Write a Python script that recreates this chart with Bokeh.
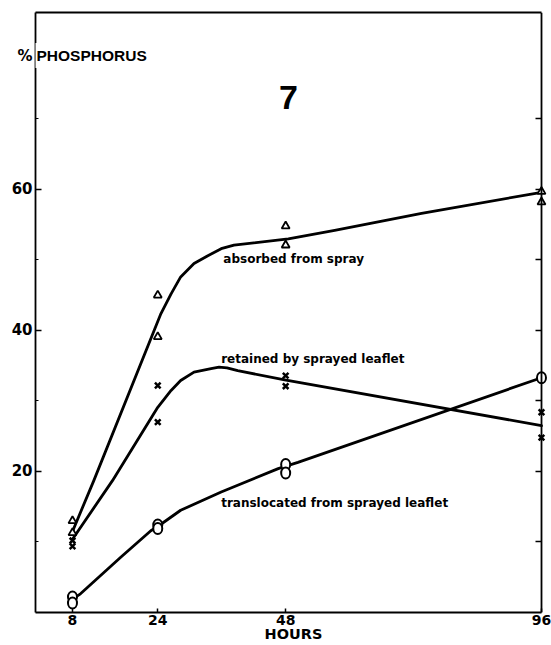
from bokeh.plotting import figure
from bokeh.models import Range1d, LinearAxis, FixedTicker, Label
from bokeh.embed import file_html
from bokeh.resources import INLINE

# ---- data ----
hours_ticks = [8, 24, 48, 96]
y_major = [20, 40, 60]
y_minor = [10, 30, 50, 70]
right_ticks = [10, 20, 30, 40, 50, 60, 70]
y_title_pos = 79.0          # height of the "% PHOSPHORUS" caption

# observed points
abs_x = [8, 8, 24, 24, 48, 48, 96, 96]
abs_y = [13.0, 11.3, 45.0, 39.1, 54.8, 52.1, 59.7, 58.2]
ret_x = [8, 8, 24, 24, 48, 48, 96, 96]
ret_y = [10.2, 9.4, 32.2, 27.0, 33.6, 32.1, 28.4, 24.8]
tra_x = [8, 8, 24, 24, 48, 48, 96]
tra_y = [2.2, 1.35, 12.4, 11.9, 21.0, 19.8, 33.3]

# hand-drawn fitted curves
abs_curve_x = [8, 12.0, 24.6, 26.5, 28.3, 30.8, 33.4, 35.9, 38.3, 48.5, 57.2, 73.5, 96]
abs_curve_y = [11.5, 18.7, 42.4, 45.2, 47.6, 49.5, 50.6, 51.6, 52.1, 53.0, 54.2, 56.6, 59.6]
ret_curve_x = [8, 15.5, 24.0, 26.5, 28.3, 30.8, 34.0, 35.5, 37.0, 39.0, 47.8, 96]
ret_curve_y = [10.4, 18.7, 29.1, 31.5, 32.9, 34.1, 34.6, 34.8, 34.7, 34.3, 33.0, 26.5]
tra_curve_x = [8, 9.5, 17.0, 22.7, 24, 28.3, 35.9, 46.6, 50.3, 96]
tra_curve_y = [1.9, 2.65, 7.8, 11.6, 12.2, 14.5, 17.1, 20.4, 21.3, 33.3]

p = figure(width=551, height=645,
           x_range=Range1d(1.06, 97.88), y_range=Range1d(0, 85.1),
           output_backend="svg", toolbar_location=None,
           min_border_left=35, min_border_right=0, min_border_top=12, min_border_bottom=33)
p.outline_line_color = None
p.xgrid.visible = False
p.ygrid.visible = False
p.background_fill_color = "white"
p.border_fill_color = "white"

SPINE = 1.8

# bottom axis
xa = p.xaxis[0]
xa.ticker = FixedTicker(ticks=hours_ticks)
xa.bounds = (1.06, 96)
xa.axis_line_width = SPINE
xa.major_tick_in = 4
xa.major_tick_out = 0
xa.major_tick_line_width = 1.5
xa.minor_tick_line_color = None
xa.major_label_text_font = "DejaVu Sans"
xa.major_label_text_font_style = "bold"
xa.major_label_text_font_size = "14px"
xa.major_label_text_color = "black"
xa.major_label_standoff = 2
xa.axis_label = "HOURS"
xa.axis_label_text_font = "DejaVu Sans"
xa.axis_label_text_font_style = "bold"
xa.axis_label_text_font_size = "14.5px"
xa.axis_label_text_color = "black"
xa.axis_label_standoff = -2

# left axis; the "%" of the caption sits in the tick-label column
ya = p.yaxis[0]
ya.ticker = FixedTicker(ticks=y_major + [y_title_pos], minor_ticks=y_minor)
ya.major_label_overrides = {y_title_pos: "%"}
ya.axis_line_width = SPINE
ya.major_tick_in = 6
ya.major_tick_out = 0
ya.minor_tick_in = 3
ya.minor_tick_out = 0
ya.major_tick_line_width = 1.5
ya.minor_tick_line_width = 1.2
ya.major_label_text_font = "DejaVu Sans"
ya.major_label_text_font_style = "bold"
ya.major_label_text_font_size = "15px"
ya.major_label_text_color = "black"
ya.major_label_standoff = 3

# right spine with inward ticks (no labels)
ra = LinearAxis(ticker=FixedTicker(ticks=right_ticks), fixed_location=96,
                axis_line_width=SPINE, major_tick_in=6, major_tick_out=0,
                major_tick_line_width=1.5, minor_tick_line_color=None,
                major_label_text_font_size="0px", major_label_text_color=None,
                major_label_standoff=0)
p.add_layout(ra, "right")

# top spine
ta = LinearAxis(ticker=FixedTicker(ticks=[]), bounds=(1.06, 96),
                axis_line_width=SPINE, major_tick_in=0, major_tick_out=0,
                minor_tick_line_color=None, major_label_text_font_size="0px",
                major_label_text_color=None, major_label_standoff=0)
p.add_layout(ta, "above")

# curves
for cx, cy in [(abs_curve_x, abs_curve_y), (ret_curve_x, ret_curve_y), (tra_curve_x, tra_curve_y)]:
    p.line(cx, cy, line_color="black", line_width=2.8, line_join="round", line_cap="round")

# markers
p.scatter(abs_x, abs_y, marker="triangle", size=8, line_color="black", line_width=1.8,
          fill_color="white")
p.scatter(ret_x, ret_y, marker="x", size=8, line_color="black", line_width=2.5)
p.ellipse(tra_x, tra_y, width=9, height=11, width_units="screen", height_units="screen",
          line_color="black", line_width=2, fill_color="white")

# texts
p.add_layout(Label(x=1.06, y=y_title_pos, text="PHOSPHORUS", text_align="left",
                   text_baseline="middle", text_font="Liberation Sans", text_font_style="bold",
                   text_font_size="15.5px", text_color="black", background_fill_color="white",
                   padding=4, x_offset=-3))
p.add_layout(Label(x=48.5, y=73.0, text="7", text_align="center", text_baseline="middle",
                   text_font="Liberation Sans", text_font_style="bold", text_font_size="34px",
                   text_color="black"))

note_style = dict(text_align="left", text_baseline="middle", text_font="DejaVu Sans",
                  text_font_style="bold", text_font_size="12px", text_color="black")
p.add_layout(Label(x=36.3, y=50.1, text="absorbed from spray", **note_style))
p.add_layout(Label(x=35.9, y=36.0, text="retained by sprayed leaflet", **note_style))
p.add_layout(Label(x=35.9, y=15.5, text="translocated from sprayed leaflet", **note_style))

open("out.html", "w").write(file_html(p, INLINE))
